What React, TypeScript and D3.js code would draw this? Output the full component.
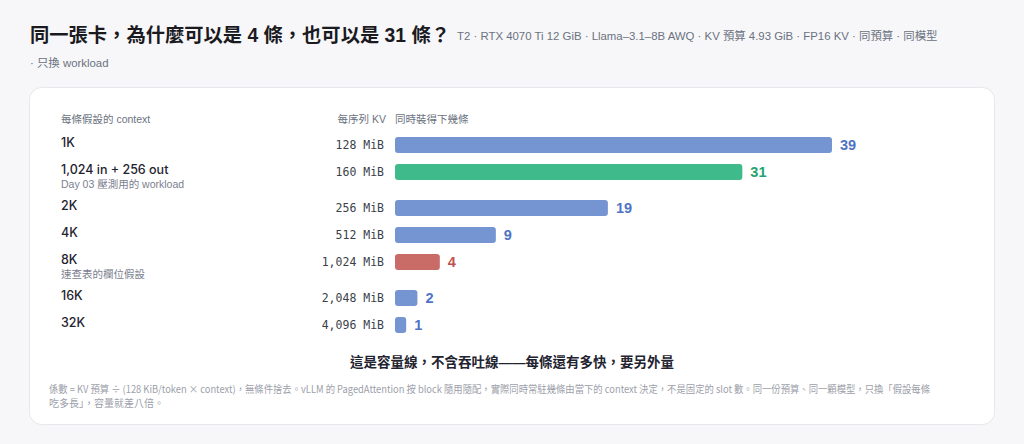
import React from "react";
import * as d3 from "d3";

const contexts = ["1K", "1,024 in + 256 out", "2K", "4K", "8K", "16K", "32K"];
const subLabels = ["", "Day 03 壓測用的 workload", "", "", "速查表的欄位假設", "", ""];
const kvLabels = ["128 MiB", "160 MiB", "256 MiB", "512 MiB", "1,024 MiB", "2,048 MiB", "4,096 MiB"];
const seqCounts = [39, 31, 19, 9, 4, 2, 1];
const kinds = ["base", "current", "base", "base", "assumed", "base", "base"];

const title = "同一張卡，為什麼可以是 4 條，也可以是 31 條？";
const subtitle1 = "T2 · RTX 4070 Ti 12 GiB · Llama–3.1–8B AWQ · KV 預算 4.93 GiB · FP16 KV · 同預算 · 同模型";
const subtitle2 = "· 只換 workload";
const colHeadContext = "每條假設的 context";
const colHeadKV = "每序列 KV";
const colHeadCount = "同時裝得下幾條";
const footerHead = "這是容量線，不含吞吐線——每條還有多快，要另外量";
const footNote1 =
  "係數 = KV 預算 ÷ (128 KiB/token × context)，無條件捨去。vLLM 的 PagedAttention 按 block 隨用隨配，實際同時常駐幾條由當下的 context 決定，不是固定的 slot 數。同一份預算、同一顆模型，只換「假設每條";
const footNote2 = "吃多長」，容量就差八倍。";

const barColor: Record<string, string> = { base: "#7594d2", current: "#3fbb8b", assumed: "#c96b67" };
const valColor: Record<string, string> = { base: "#4f74c4", current: "#1fa470", assumed: "#c0504c" };

const SANS = "'Liberation Sans', 'Noto Sans CJK TC', sans-serif";
const LABEL = "Inter, 'Noto Sans CJK TC', sans-serif";
const NOTE = "'Noto Sans CJK TC', sans-serif";
const MONO = "'DejaVu Sans Mono', monospace";

export default function App() {
  const W = 1024;
  const H = 444;
  const x = d3.scaleLinear().domain([0, d3.max(seqCounts) as number]).range([395, 832]);

  const firstY = 145;
  const centers: number[] = [];
  let y = firstY;
  contexts.forEach((_, i) => {
    centers.push(y);
    y += subLabels[i] ? 36 : 27;
  });

  return (
    <svg
      width={W}
      height={H}
      style={{ position: "absolute", left: 0, top: 0, display: "block" }}
      fontFamily={SANS}
    >
      <rect x={0} y={0} width={W} height={H} fill="#f7f7f9" />
      <text x={30} y={42} fontSize={19.3} fontWeight={700} fill="#1a1a1f">
        {title}
      </text>
      <text x={457} y={40} fontSize={11.4} fill="#6b7280">
        {subtitle1}
      </text>
      <text x={30} y={67} fontSize={11.4} fill="#6b7280">
        {subtitle2}
      </text>

      <rect x={29.5} y={87.5} width={965} height={337} rx={12} fill="#ffffff" stroke="#e7e7ec" />

      <text x={61} y={123} fontSize={10.5} fill="#6b7280">
        {colHeadContext}
      </text>
      <text x={386} y={123} fontSize={10.5} fill="#6b7280" textAnchor="end">
        {colHeadKV}
      </text>
      <text x={395} y={123} fontSize={10.5} fill="#6b7280">
        {colHeadCount}
      </text>

      {contexts.map((c, i) => {
        const cy = centers[i];
        const k = kinds[i];
        return (
          <g key={c}>
            <text x={61} y={cy + 2} fontSize={12.5} fontWeight={500} fontFamily={LABEL} fill="#1f2430">
              {c}
            </text>
            {subLabels[i] && (
              <text x={61} y={cy + 16} fontSize={10.5} fill="#7b8090">
                {subLabels[i]}
              </text>
            )}
            <text
              x={384}
              y={cy}
              dy="0.35em"
              fontSize={11.5}
              fontFamily={MONO}
              fill="#3b3f4a"
              textAnchor="end"
            >
              {kvLabels[i]}
            </text>
            <rect
              x={x(0)}
              y={cy - 8}
              width={x(seqCounts[i]) - x(0)}
              height={16}
              rx={3}
              fill={barColor[k]}
            />
            <text
              x={x(seqCounts[i]) + 8}
              y={cy}
              dy="0.36em"
              fontSize={14.5}
              fontWeight={700}
              fill={valColor[k]}
            >
              {seqCounts[i]}
            </text>
          </g>
        );
      })}

      <text x={512} y={367} fontSize={13.5} fontWeight={700} fill="#1f2430" textAnchor="middle">
        {footerHead}
      </text>
      <text
        x={49}
        y={393}
        fontSize={10}
        fontFamily={NOTE}
        fill="#9ca0aa"
        textLength={881}
        lengthAdjust="spacingAndGlyphs"
      >
        {footNote1}
      </text>
      <text x={49} y={407} fontSize={10} fontFamily={NOTE} fill="#9ca0aa">
        {footNote2}
      </text>
    </svg>
  );
}
